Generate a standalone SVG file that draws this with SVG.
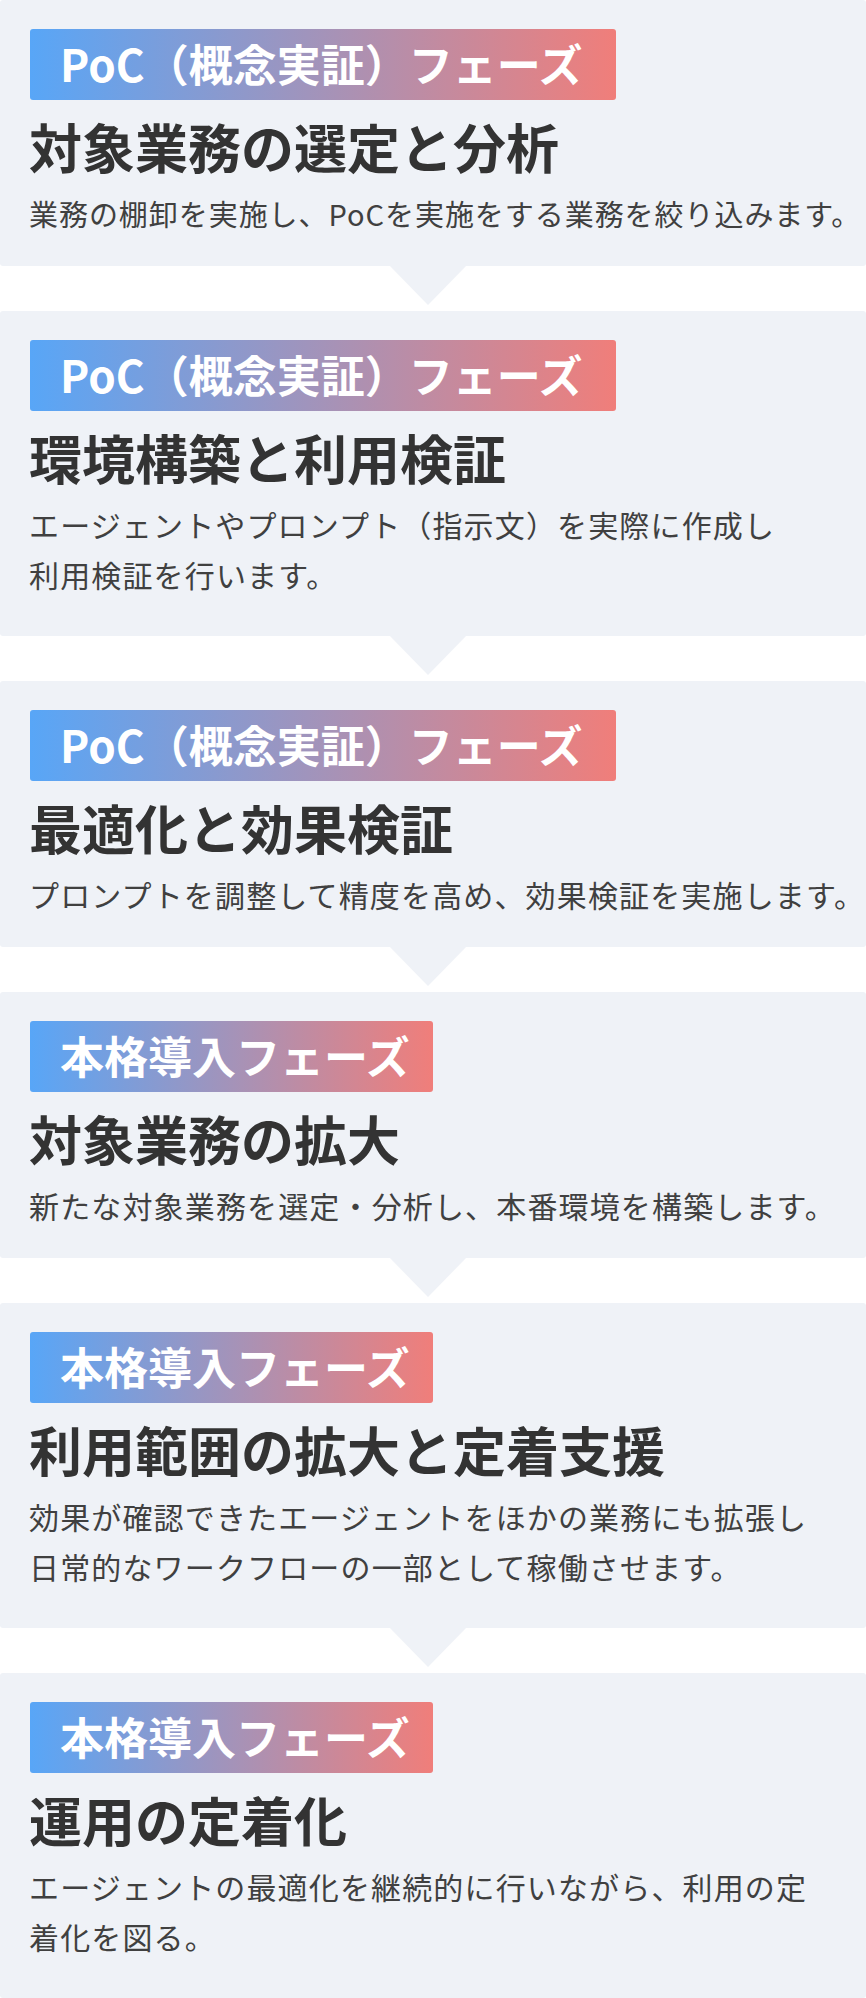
<svg xmlns="http://www.w3.org/2000/svg" width="866" height="1998" viewBox="0 0 866 1998">
<defs>
<linearGradient id="badgeGrad" x1="0" y1="0" x2="1" y2="0">
<stop offset="0" stop-color="#58a6f7"/>
<stop offset="0.5" stop-color="#a493b9"/>
<stop offset="1" stop-color="#f07e7a"/>
</linearGradient>
<style>
.panel{fill:#eff2f7}
.tri{fill:#eff2f7}
.badge{fill:url(#badgeGrad)}
.btxt{font-family:"Noto Sans CJK JP","Noto Sans",sans-serif;font-weight:700;font-size:44px;fill:#ffffff}
.title{font-family:"Noto Sans CJK JP","Noto Sans",sans-serif;font-weight:700;font-size:53px;fill:#333333}
.desc{font-family:"Noto Sans CJK JP","Noto Sans",sans-serif;font-weight:400;font-size:30px;letter-spacing:1.15px;fill:#404040}
.desc1{font-size:29px;letter-spacing:0.95px}
</style>
</defs>
<rect width="866" height="1998" fill="#ffffff"/>
<g id="connectors">
<polygon class="tri" points="389,265 467,265 428,305"/>
<polygon class="tri" points="389,635 467,635 428,675"/>
<polygon class="tri" points="389,946 467,946 428,986"/>
<polygon class="tri" points="389,1257 467,1257 428,1297"/>
<polygon class="tri" points="389,1627 467,1627 428,1667"/>
</g>
<g id="node1">
<rect class="panel" x="0" y="0" width="866" height="266" rx="3"/>
<rect class="badge" x="30" y="29" width="586" height="71" rx="3"/>
<text class="btxt" x="60" y="82">PoC（概念実証）フェーズ</text>
<text class="title" x="29" y="169">対象業務の選定と分析</text>
<text class="desc desc1" x="29" y="226">業務の棚卸を実施し、PoCを実施をする業務を絞り込みます。</text>
</g>
<g id="node2">
<rect class="panel" x="0" y="311" width="866" height="325" rx="3"/>
<rect class="badge" x="30" y="340" width="586" height="71" rx="3"/>
<text class="btxt" x="60" y="393">PoC（概念実証）フェーズ</text>
<text class="title" x="29" y="480">環境構築と利用検証</text>
<text class="desc" x="29" y="537">エージェントやプロンプト（指示文）を実際に作成し</text>
<text class="desc" x="29" y="587">利用検証を行います。</text>
</g>
<g id="node3">
<rect class="panel" x="0" y="681" width="866" height="266" rx="3"/>
<rect class="badge" x="30" y="710" width="586" height="71" rx="3"/>
<text class="btxt" x="60" y="763">PoC（概念実証）フェーズ</text>
<text class="title" x="29" y="850">最適化と効果検証</text>
<text class="desc" x="29" y="907">プロンプトを調整して精度を高め、効果検証を実施します。</text>
</g>
<g id="node4">
<rect class="panel" x="0" y="992" width="866" height="266" rx="3"/>
<rect class="badge" x="30" y="1021" width="403" height="71" rx="3"/>
<text class="btxt" x="60" y="1074">本格導入フェーズ</text>
<text class="title" x="29" y="1161">対象業務の拡大</text>
<text class="desc" x="29" y="1218">新たな対象業務を選定・分析し、本番環境を構築します。</text>
</g>
<g id="node5">
<rect class="panel" x="0" y="1303" width="866" height="325" rx="3"/>
<rect class="badge" x="30" y="1332" width="403" height="71" rx="3"/>
<text class="btxt" x="60" y="1385">本格導入フェーズ</text>
<text class="title" x="29" y="1472">利用範囲の拡大と定着支援</text>
<text class="desc" x="29" y="1529">効果が確認できたエージェントをほかの業務にも拡張し</text>
<text class="desc" x="29" y="1579">日常的なワークフローの一部として稼働させます。</text>
</g>
<g id="node6">
<rect class="panel" x="0" y="1673" width="866" height="325" rx="3"/>
<rect class="badge" x="30" y="1702" width="403" height="71" rx="3"/>
<text class="btxt" x="60" y="1755">本格導入フェーズ</text>
<text class="title" x="29" y="1842">運用の定着化</text>
<text class="desc" x="29" y="1899">エージェントの最適化を継続的に行いながら、利用の定</text>
<text class="desc" x="29" y="1949">着化を図る。</text>
</g>
</svg>
